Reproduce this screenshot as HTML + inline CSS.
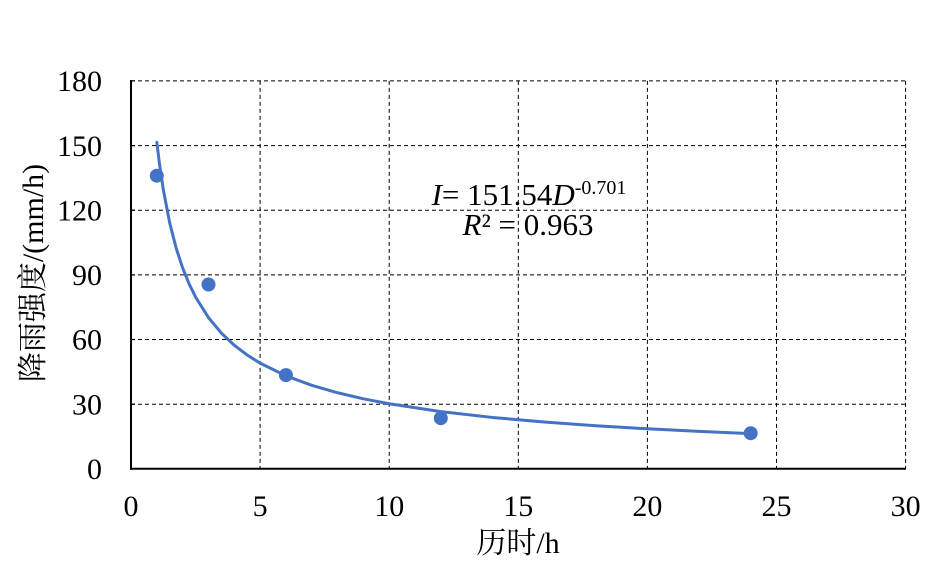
<!DOCTYPE html>
<html>
<head>
<meta charset="utf-8">
<style>
  html, body { margin:0; padding:0; background:#fff; }
  svg { display:block; }
  text { font-family: "Liberation Serif", "Noto Serif CJK SC", serif; fill:#000; }
</style>
</head>
<body>
<svg width="947" height="568" viewBox="0 0 947 568" xmlns="http://www.w3.org/2000/svg">
  <rect width="947" height="568" fill="#fff"/>
  <!-- gridlines horizontal -->
  <g stroke="#000" stroke-width="1" stroke-dasharray="4,3" fill="none">
    <line x1="131" y1="404.2" x2="905.6" y2="404.2"/>
    <line x1="131" y1="339.5" x2="905.6" y2="339.5"/>
    <line x1="131" y1="274.9" x2="905.6" y2="274.9"/>
    <line x1="131" y1="210.2" x2="905.6" y2="210.2"/>
    <line x1="131" y1="145.6" x2="905.6" y2="145.6"/>
    <line x1="131" y1="80.9" x2="905.6" y2="80.9"/>
    <!-- vertical -->
    <line x1="260.1" y1="80.9" x2="260.1" y2="468.8"/>
    <line x1="389.2" y1="80.9" x2="389.2" y2="468.8"/>
    <line x1="518.3" y1="80.9" x2="518.3" y2="468.8"/>
    <line x1="647.4" y1="80.9" x2="647.4" y2="468.8"/>
    <line x1="776.5" y1="80.9" x2="776.5" y2="468.8"/>
    <line x1="905.6" y1="80.9" x2="905.6" y2="468.8"/>
  </g>
  <!-- axes -->
  <g stroke="#000" stroke-width="2" fill="none">
    <line x1="131" y1="80" x2="131" y2="469.8"/>
    <line x1="130" y1="468.8" x2="906" y2="468.8"/>
  </g>
  <g stroke="#000" stroke-width="1.2">
    <line x1="131" y1="404.2" x2="135" y2="404.2"/>
    <line x1="131" y1="339.5" x2="135" y2="339.5"/>
    <line x1="131" y1="274.9" x2="135" y2="274.9"/>
    <line x1="131" y1="210.2" x2="135" y2="210.2"/>
    <line x1="131" y1="145.6" x2="135" y2="145.6"/>
    <line x1="131" y1="80.9" x2="135" y2="80.9"/>
  </g>

  <!-- fitted curve -->
  <path transform="matrix(25.82,0,0,-2.155,131,468.8)" vector-effect="non-scaling-stroke"
        fill="none" stroke="#4472C4" stroke-width="3" stroke-linejoin="round" stroke-linecap="round"
        d="M1,151.54 L1.1,141.75 L1.25,129.6 L1.5,114.06 L1.75,102.37 L2,93.22 L2.25,85.83 L2.5,79.72 L3,70.16 L3.5,62.97 L4,57.34 L4.5,52.80 L5,49.04 L6,43.16 L7,38.74 L8,35.28 L9,32.48 L10,30.17 L12,26.55 L14,23.83 L16,21.70 L18,19.98 L20,18.56 L22,17.36 L24,16.33"/>

  <!-- data points -->
  <g fill="#4472C4">
    <circle cx="156.8" cy="175.7" r="7"/>
    <circle cx="208.5" cy="284.5" r="7"/>
    <circle cx="285.9" cy="375.1" r="7"/>
    <circle cx="440.8" cy="418.2" r="7"/>
    <circle cx="750.7" cy="433.2" r="7"/>
  </g>

  <!-- y tick labels -->
  <g font-size="30" text-anchor="end">
    <text x="102" y="479">0</text>
    <text x="102" y="414.4">30</text>
    <text x="102" y="349.7">60</text>
    <text x="102" y="285.1">90</text>
    <text x="102" y="220.4">120</text>
    <text x="102" y="155.8">150</text>
    <text x="102" y="91.1">180</text>
  </g>
  <!-- x tick labels -->
  <g font-size="30" text-anchor="middle">
    <text x="131" y="516">0</text>
    <text x="260.1" y="516">5</text>
    <text x="389.2" y="516">10</text>
    <text x="518.3" y="516">15</text>
    <text x="647.4" y="516">20</text>
    <text x="776.5" y="516">25</text>
    <text x="905.6" y="516">30</text>
  </g>

  <!-- axis titles -->
  <text x="518" y="553" font-size="30" text-anchor="middle">历时/h</text>
  <text transform="translate(43,273) rotate(-90)" font-size="30" text-anchor="middle">降雨强度/(mm/h)</text>

  <!-- equation -->
  <text x="529" y="205" font-size="31" text-anchor="middle"><tspan font-style="italic">I</tspan>= 151.54<tspan font-style="italic">D</tspan><tspan font-size="20" dy="-11">-0.701</tspan></text>
  <text x="528" y="235" font-size="31" text-anchor="middle"><tspan font-style="italic">R</tspan>² = 0.963</text>
</svg>
</body>
</html>
